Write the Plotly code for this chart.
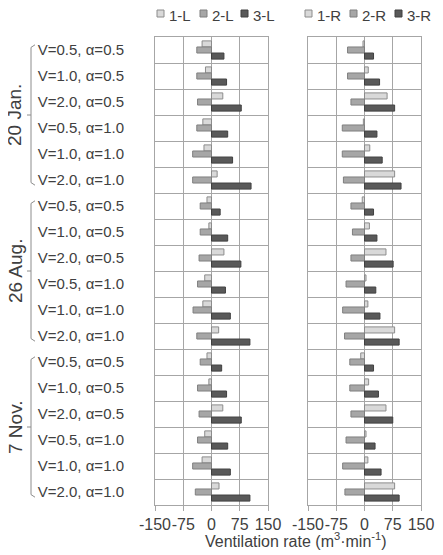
import plotly.graph_objects as go
from plotly.subplots import make_subplots

# case labels, top to bottom
groups = ["20 Jan.", "26 Aug.", "7 Nov."]
cases = ["V=0.5, α=0.5", "V=1.0, α=0.5", "V=2.0, α=0.5",
         "V=0.5, α=1.0", "V=1.0, α=1.0", "V=2.0, α=1.0"]
labels = cases * len(groups)

# ventilation rates (m3/min)
L1 = [-25, -16, 30, -23, -20, 15, -12, -7, 33, -18, -23, 19, -12, -7, 30, -18, -25, 20]
L2 = [-39, -39, -37, -39, -50, -50, -30, -30, -33, -37, -49, -39, -30, -37, -33, -37, -50, -43]
L3 = [33, 40, 79, 43, 56, 105, 23, 43, 78, 37, 50, 102, 27, 40, 79, 43, 50, 102]
R1 = [-4, 10, 60, -3, 14, 80, -6, 13, 57, 4, 9, 80, -10, 11, 57, 4, 9, 80]
R2 = [-45, -45, -36, -59, -59, -56, -36, -32, -36, -49, -58, -53, -39, -39, -36, -49, -58, -52]
R3 = [24, 40, 80, 33, 47, 97, 24, 33, 76, 30, 41, 92, 24, 37, 75, 28, 44, 92]

xticks = [-150, -75, 0, 75, 150]
xticktext = ["-150", "-75", "0", "75", "150"]

# page body has an 8px margin, so the figure is a bit smaller and
# all positions below are given in window pixels minus that offset
OFF = 8
W, H = 443 - OFF, 555 - OFF
FONT = "Liberation Sans, Arial, sans-serif"
TXT = "#404040"
GRID = "#a6a6a6"
fills = ["#d9d9d9", "#a6a6a6", "#595959"]
edges = ["#8c8c8c", "#7f7f7f", "#404040"]

pos = list(range(len(labels)))

fig = make_subplots(rows=1, cols=2, shared_yaxes=True)

for col, (series, side) in enumerate([((L1, L2, L3), "L"), ((R1, R2, R3), "R")], start=1):
    for i, vals in enumerate(series):
        fig.add_trace(go.Bar(
            x=vals, y=pos, orientation="h", name=f"{i+1}-{side}",
            marker=dict(color=fills[i], line=dict(color=edges[i], width=1)),
            showlegend=False,
        ), row=1, col=col)

px = lambda v: (v - OFF) / W
py = lambda v: 1 - (v - OFF) / H

xax = dict(range=[-150, 150], tickvals=xticks, ticktext=xticktext,
           ticks="outside", ticklen=5,
           tickcolor=GRID, showline=True, linecolor=GRID, mirror=True,
           showgrid=True, gridcolor=GRID, zeroline=False, tickangle=0,
           automargin=False,
           tickfont=dict(size=16, color=TXT, family=FONT))
fig.update_xaxes(**xax)
fig.update_layout(xaxis=dict(domain=[px(155), px(268)]),
                  xaxis2=dict(domain=[px(308), px(421)]))

yax = dict(range=[len(labels) - 0.5, -0.5], domain=[py(505), py(37)],
           tickmode="array", tickvals=pos, ticks="", showgrid=False,
           showline=True, linecolor=GRID, mirror=True, zeroline=False,
           automargin=False,
           minor=dict(tickmode="array", tickvals=[p - 0.5 for p in pos] + [len(pos) - 0.5],
                      showgrid=True, gridcolor=GRID, ticks=""))
fig.update_yaxes(**yax)
fig.update_layout(yaxis=dict(ticktext=labels, ticklabelstandoff=27,
                             tickfont=dict(size=15, color=TXT, family=FONT)),
                  yaxis2=dict(showticklabels=False))

shapes = []
annotations = []

# group brackets and labels
bx = px(31)
for g, name in enumerate(groups):
    y0, y1 = g * 6, g * 6 + 5
    shapes += [
        dict(type="line", xref="paper", yref="y", x0=bx, x1=bx, y0=y0 - 0.1, y1=y1 + 0.1),
        dict(type="line", xref="paper", yref="y", x0=bx, x1=px(35), y0=y0 - 0.1, y1=y0 - 0.2),
        dict(type="line", xref="paper", yref="y", x0=bx, x1=px(35), y0=y1 + 0.1, y1=y1 + 0.2),
        dict(type="line", xref="paper", yref="y", x0=px(27), x1=bx, y0=(y0 + y1) / 2, y1=(y0 + y1) / 2),
    ]
    annotations.append(dict(text=name, xref="paper", yref="y", x=px(15), y=(y0 + y1) / 2,
                            xanchor="center", yanchor="middle",
                            textangle=-90, showarrow=False,
                            font=dict(size=19, color=TXT, family=FONT)))
for s in shapes:
    s["line"] = dict(color="#8c8c8c", width=1)

# legend drawn by hand so it stays compact
leg = [("1-L", 157, 0), ("2-L", 200, 1), ("3-L", 241, 2),
       ("1-R", 305, 0), ("2-R", 350, 1), ("3-R", 395, 2)]
for text, x, i in leg:
    shapes.append(dict(type="rect", xref="paper", yref="paper",
                       x0=px(x), x1=px(x + 7), y0=py(17), y1=py(10),
                       fillcolor=fills[i], line=dict(color=edges[i], width=1)))
    annotations.append(dict(text=text, xref="paper", yref="paper", x=px(x + 10), y=py(15),
                            xanchor="left", yanchor="middle", showarrow=False,
                            font=dict(size=15, color=TXT, family=FONT)))

annotations.append(dict(text="Ventilation rate (m<sup>3</sup>·min<sup>-1</sup>)",
                        xref="paper", yref="paper", x=px(296), y=py(540),
                        xanchor="center", yanchor="middle", showarrow=False,
                        font=dict(size=16, color=TXT, family=FONT)))

fig.update_layout(
    width=W, height=H,
    margin=dict(l=0, r=0, t=0, b=0),
    barmode="group", bargap=0.3, bargroupgap=0,
    plot_bgcolor="white", paper_bgcolor="white",
    shapes=shapes, annotations=annotations,
    showlegend=False,
)

fig.write_html("out.html")
